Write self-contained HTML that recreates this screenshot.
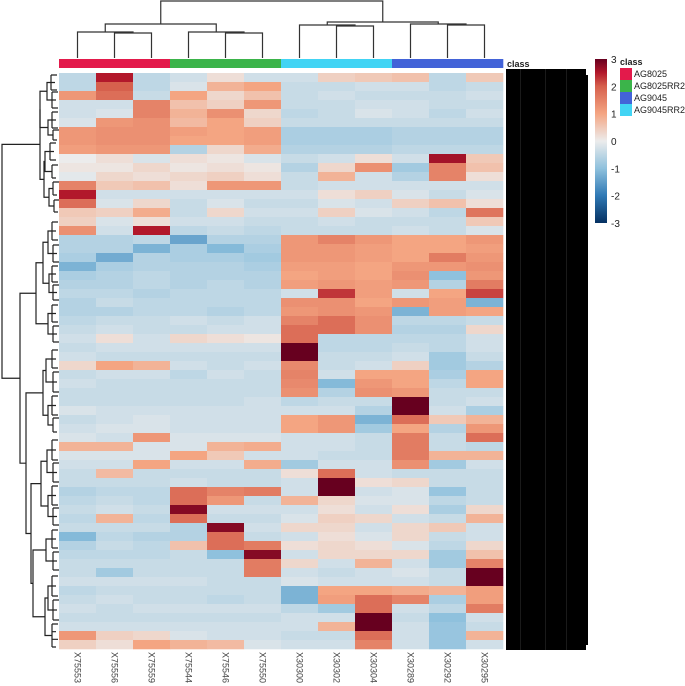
<!DOCTYPE html>
<html><head><meta charset="utf-8">
<style>
html,body{margin:0;padding:0;background:#fff;}
svg{display:block;font-family:"Liberation Sans",sans-serif;}
</style></head>
<body>
<svg id="chart" width="685" height="686" viewBox="0 0 685 686" xmlns="http://www.w3.org/2000/svg">
  <g id="col-dendro" stroke="#333" stroke-width="1.2" fill="none"></g>
  <g id="row-dendro" stroke="#222" stroke-width="1.2" fill="none"></g>
  <g id="classbar"></g>
  <g id="cells"></g>
  <text x="507" y="67" font-size="9" font-weight="bold" fill="#222">class</text>
  <g>
    <rect x="506" y="69" width="80" height="581" fill="#000"/>
    <rect x="520" y="69" width="1" height="581" fill="#1a1a1a"/>
    <rect x="545" y="69" width="1" height="581" fill="#1a1a1a"/>
    <rect x="566" y="69" width="1" height="581" fill="#1a1a1a"/>
    <rect x="586" y="75" width="2" height="570" fill="#000"/>
  </g>
  <g id="collabels"></g>
  <defs>
    <linearGradient id="cbg" x1="0" y1="0" x2="0" y2="1">
      <stop offset="0" stop-color="#67001f"/>
      <stop offset="0.083" stop-color="#b2182b"/>
      <stop offset="0.167" stop-color="#d6604d"/>
      <stop offset="0.333" stop-color="#f4a582"/>
      <stop offset="0.5" stop-color="#ececec"/>
      <stop offset="0.667" stop-color="#8fc1dd"/>
      <stop offset="0.833" stop-color="#2f79b5"/>
      <stop offset="1" stop-color="#053061"/>
    </linearGradient>
  </defs>
  <rect x="595" y="59" width="12" height="164" fill="url(#cbg)"/>
  <g id="cbticks" font-size="10" fill="#222"></g>
  <g font-size="9" fill="#222">
    <text x="620" y="65" font-weight="bold">class</text>
    <rect x="620" y="68" width="12" height="12" fill="#e31a4b"/>
    <text x="634" y="77">AG8025</text>
    <rect x="620" y="80" width="12" height="12" fill="#3bb44a"/>
    <text x="634" y="89">AG8025RR2</text>
    <rect x="620" y="92" width="12" height="12" fill="#4363d8"/>
    <text x="634" y="101">AG9045</text>
    <rect x="620" y="104" width="12" height="12" fill="#42d4f4"/>
    <text x="634" y="113">AG9045RR2</text>
  </g>
</svg>
<script>
const samples = ["X75553","X75556","X75559","X75544","X75546","X75550","X30300","X30302","X30304","X30289","X30292","X30295"];
const sampleClass = ["AG8025","AG8025","AG8025","AG8025RR2","AG8025RR2","AG8025RR2","AG9045RR2","AG9045RR2","AG9045RR2","AG9045","AG9045","AG9045"];
const classColors = {"AG8025":"#e31a4b","AG8025RR2":"#3bb44a","AG9045RR2":"#42d4f4","AG9045":"#4363d8"};
const scaleTicks = [3,2,1,0,-1,-2,-3];
const c1 = [-0.5,-0.5,1.2,-0.3,-0.3,-0.2,1.2,1.2,1.1,0,0.1,-0.1,1.5,2.5,1.8,0.5,0.4,1.3,-0.6,-0.6,-0.7,-1.2,-0.7,-0.6,-0.5,-0.6,-0.6,-0.5,-0.4,-0.3,-0.4,-0.3,0.3,-0.4,-0.3,-0.4,-0.4,-0.2,-0.4,-0.3,-0.2,0.8,-0.2,-0.3,-0.4,-0.4,-0.6,-0.5,-0.4,-0.5,-0.4,-1.1,-0.6,-0.5,-0.4,-0.4,-0.3,-0.5,-0.4,-0.3,-0.4,-0.3,1.2,0.4];
const c2 = [2.5,2.0,1.8,-0.3,-0.2,1.2,1.3,1.3,1.2,0.2,0.1,0.3,0.5,-0.3,-0.2,0.4,-0.2,-0.3,-0.6,-0.6,-1.3,-0.7,-0.6,-0.6,-0.5,-0.4,-0.6,-0.4,-0.3,0.2,-0.3,-0.4,1.0,-0.3,-0.4,-0.4,-0.4,-0.3,-0.3,-0.2,-0.3,0.8,-0.2,-0.3,0.7,-0.4,-0.5,-0.4,-0.3,0.8,-0.4,-0.5,-0.4,-0.5,-0.4,-0.8,-0.3,-0.4,-0.3,-0.4,-0.4,-0.3,0.4,0.2];
const c3 = [-0.5,-0.5,-0.4,1.5,1.5,1.3,1.3,1.3,1.2,-0.2,0.3,0.2,0.6,-0.3,0.3,0.9,0.2,2.5,-0.5,-1.2,-0.6,-0.6,-0.5,-0.5,-0.6,-0.5,-0.5,-0.4,-0.4,-0.3,-0.3,-0.4,0.8,-0.3,-0.4,-0.4,-0.4,-0.3,-0.2,-0.2,1.2,-0.2,-0.2,1.0,-0.4,-0.4,-0.5,-0.5,-0.4,-0.5,-0.4,-0.6,-0.5,-0.5,-0.4,-0.4,-0.3,-0.4,-0.4,-0.3,-0.4,-0.3,0.3,1.0];
const c4 = [-0.3,-0.2,1.0,0.6,0.8,0.7,1.1,1.0,-0.6,0.2,0.1,0.3,0.2,-0.3,-0.4,-0.4,-0.3,-0.5,-1.4,-0.7,-0.7,-0.6,-0.6,-0.6,-0.5,-0.5,-0.5,-0.3,-0.4,0.3,-0.3,-0.4,-0.3,-0.5,-0.4,-0.4,-0.4,-0.3,-0.3,-0.3,-0.2,-0.2,1.0,-0.3,-0.4,-0.3,1.8,1.8,2.8,1.8,-0.6,-0.6,0.6,-0.4,-0.4,-0.4,-0.3,-0.4,-0.4,-0.3,-0.4,-0.3,-0.2,0.8];
const c5 = [0.2,0.8,0.3,0.4,1.3,1.0,1.0,1.0,0.3,0.1,0.2,0.4,1.2,-0.3,-0.2,0.3,-0.3,-0.4,-0.6,-1.1,-0.7,-0.6,-0.6,-0.5,-0.5,-0.5,-0.6,-0.4,-0.3,0.2,-0.3,-0.4,-0.4,-0.3,-0.4,-0.4,-0.4,-0.3,-0.3,-0.3,-0.2,0.8,0.5,-0.3,-0.4,-0.4,1.5,1.2,-0.3,-0.4,2.8,1.8,1.8,-1.0,-0.4,-0.4,-0.4,-0.4,-0.5,-0.3,-0.4,-0.3,-0.3,0.7];
const c6 = [-0.3,1.0,0.6,1.2,0.3,0.4,1.1,1.1,0.9,-0.2,0.1,0.2,1.2,-0.3,-0.4,-0.3,-0.4,-0.5,-0.6,-0.7,-0.8,-0.7,-0.6,-0.6,-0.5,-0.5,-0.5,-0.3,-0.3,0.1,-0.3,-0.4,-0.3,-0.4,-0.4,-0.4,-0.3,-0.3,-0.3,-0.3,-0.2,0.9,-0.3,0.9,-0.4,-0.4,1.6,-0.4,-0.3,-0.4,-0.3,-0.4,1.6,2.8,1.6,1.6,-0.4,-0.4,-0.4,-0.3,-0.4,-0.3,-0.3,-0.2];
const c7 = [-0.3,-0.4,-0.4,-0.4,-0.5,-0.4,-0.7,-0.7,-0.6,-0.4,-0.6,-0.4,-0.4,-0.3,-0.4,-0.3,-0.4,-0.4,1.2,1.2,1.2,1.1,1.0,1.1,-0.3,1.3,1.2,1.5,1.8,1.8,3,3,1.4,1.5,1.4,1.3,-0.5,-0.3,1.0,1.0,-0.3,-0.3,-0.3,-0.8,0.2,-0.3,-0.3,0.8,-0.3,-0.2,0.3,-0.3,0.2,-0.3,0.3,-0.3,-0.2,-1.2,-1.2,-0.5,-0.3,-0.3,-0.4,-0.3];
const c8 = [0.4,-0.4,-0.3,-0.4,-0.4,-0.4,-0.7,-0.7,-0.6,-0.3,0.3,0.8,-0.3,0.2,-0.2,0.4,-0.3,-0.4,1.5,1.2,1.2,1.1,1.1,1.2,2.3,1.3,1.3,1.8,1.8,-0.5,-0.5,-0.4,-0.4,-0.3,-1.1,-0.6,-0.4,-0.3,1.2,1.2,-0.3,-0.3,-0.4,-0.3,1.8,3,3,0.3,0.2,0.4,0.3,0.2,0.3,0.3,-0.3,-0.4,-0.3,1.0,1.1,-0.8,-0.3,0.8,-0.4,-0.3];
const c9 = [0.5,-0.3,-0.4,-0.3,-0.2,-0.4,-0.7,-0.7,-0.6,0.2,1.3,-0.3,-0.3,0.4,-0.3,-0.2,-0.4,-0.4,1.2,1.1,1.1,1.0,1.0,1.1,1.1,1.0,1.2,1.3,1.3,-0.5,-0.5,-0.4,-0.3,1.0,1.2,1.3,-0.4,-0.6,-1.2,-0.8,-0.4,-0.4,-0.4,-0.3,-0.3,0.2,-0.3,-0.2,-0.3,0.3,-0.3,-0.2,0.2,0.3,0.8,-0.3,-0.3,1.0,1.8,1.8,3,3,1.8,1.5];
const c10 = [0.6,-0.3,-0.4,-0.3,-0.3,-0.4,-0.6,-0.6,-0.5,-0.3,-0.8,-0.6,-0.3,-0.2,0.4,-0.3,-0.4,-0.3,1.0,1.0,1.0,1.2,1.3,1.2,-0.3,1.2,-1.2,-0.5,-0.6,-0.5,-0.4,-0.3,0.4,1.0,1.0,1.2,3,3,1.8,1.0,1.6,1.6,1.6,1.3,-0.4,0.3,-0.2,-0.2,0.2,-0.3,0.3,0.3,-0.2,0.3,-0.3,-0.2,-0.3,0.9,1.5,-0.3,-0.4,-0.3,-0.3,-0.3];
const c11 = [-0.5,-0.5,-0.4,-0.4,-0.5,-0.4,-0.6,-0.6,-0.5,2.6,1.5,1.5,-0.3,-0.4,0.6,-0.5,-0.4,-0.4,1.0,1.0,1.6,1.2,-1.0,-0.6,1.0,1.1,1.1,-0.5,-0.6,-0.5,-0.5,-0.8,-0.8,-0.7,-0.5,-0.4,-0.4,-0.3,0.5,-0.6,-0.4,-0.4,0.8,-0.8,-0.4,-0.4,-0.9,-0.5,-0.7,-0.4,0.5,-0.4,-0.5,-0.8,-0.8,-0.4,-0.4,0.8,-0.7,-0.5,-1.0,-0.9,-0.9,-0.9];
const c12 = [0.5,-0.4,-0.3,-0.4,-0.3,-0.4,-0.6,-0.6,-0.5,0.5,0.6,0.2,-0.3,-0.2,0.2,1.7,0.5,-0.2,1.2,1.1,1.2,1.3,1.2,1.6,2.2,-1.2,1.0,-0.4,0.3,-0.3,-0.3,-0.4,-0.6,1.0,1.0,-0.4,-0.3,-0.7,0.8,1.2,1.8,-0.5,0.8,-0.3,-0.4,-0.4,-0.4,-0.4,0.3,0.8,-0.3,-0.3,0.3,0.6,1.5,3,3,1.1,1.1,1.6,-0.3,-0.4,0.8,-0.3];
const columns = [c1,c2,c3,c4,c5,c6,c7,c8,c9,c10,c11,c12];

const NS = "http://www.w3.org/2000/svg";
const X0 = 59, X1 = 503, Y0 = 73, Y1 = 649;
const colW = (X1 - X0) / samples.length;
const nRows = c1.length;
const rowH = (Y1 - Y0) / nRows;
const xPos = i => X0 + i * colW;
const yPos = r => Y0 + r * rowH;
const vMin = -3, vMax = 3;
const stops = [[-3,[5,48,97]],[-2,[47,121,181]],[-1,[143,193,221]],[0,[236,236,236]],[1,[244,165,130]],[2,[214,96,77]],[2.5,[178,24,43]],[3,[103,0,31]]];
function color(v){
  v = Math.max(vMin, Math.min(vMax, v));
  for (let i=0;i<stops.length-1;i++){
    const a=stops[i], b=stops[i+1];
    if (v>=a[0] && v<=b[0]){
      const t=(v-a[0])/(b[0]-a[0]);
      const c=a[1].map((x,k)=>Math.round(x+(b[1][k]-x)*t));
      return "rgb("+c.join(",")+")";
    }
  }
  return "#fff";
}
function mk(tag, attrs, parent){
  const e=document.createElementNS(NS,tag);
  for (const k in attrs) e.setAttribute(k, attrs[k]);
  parent.appendChild(e); return e;
}
const cells = document.getElementById("cells");
columns.forEach((col, ci) => {
  col.forEach((v, ri) => {
    const r = mk("rect", {x:xPos(ci).toFixed(2), y:yPos(ri).toFixed(2), width:(colW+0.3).toFixed(2), height:(rowH+0.3).toFixed(2), fill:color(v)}, cells);
    
    
  });
});
const cbar = document.getElementById("classbar");
sampleClass.forEach((c, i) => {
  const r = mk("rect", {x:xPos(i).toFixed(2), y:59, width:(colW+0.3).toFixed(2), height:9, fill:classColors[c]}, cbar);
  
  
});
const cl = document.getElementById("collabels");
samples.forEach((s, i) => {
  const cxl = xPos(i) + colW/2 - 3;
  const t = mk("text", {x:0, y:0, "font-size":9, fill:"#444", transform:"translate("+cxl.toFixed(1)+",652) rotate(90)"}, cl);
  t.textContent = s;
  
  
});
const ct = document.getElementById("cbticks");
scaleTicks.forEach(v => {
  const y = 59 + (vMax - v) / (vMax - vMin) * 164;
  const t = mk("text", {x:611, y:(y+4).toFixed(1)}, ct);
  t.textContent = String(v);
  
  
});
const cd = document.getElementById("col-dendro");
function ccx(i){ return xPos(i) + colW/2; }
function link(x1,x2,yTop,y1b,y2b,parent){
  const p = mk("path", {d:"M"+x1+","+y1b+"V"+yTop+"H"+x2+"V"+y2b}, parent);
  
  
}
link(ccx(1),ccx(2),33,58,58,cd); const rP=(ccx(1)+ccx(2))/2;
link(ccx(0),rP,32,58,33,cd); const rDen=(ccx(0)+rP)/2;
link(ccx(4),ccx(5),33,58,58,cd); const gP=(ccx(4)+ccx(5))/2;
link(ccx(3),gP,32,58,33,cd); const gDen=(ccx(3)+gP)/2;
link(rDen,gDen,24,32,32,cd); const Lden=(rDen+gDen)/2;
link(ccx(7),ccx(8),26,58,58,cd); const cP=(ccx(7)+ccx(8))/2;
link(ccx(6),cP,25,58,26,cd); const cDen=(ccx(6)+cP)/2;
link(ccx(10),ccx(11),25,58,58,cd); const bP=(ccx(10)+ccx(11))/2;
link(ccx(9),bP,24,58,25,cd); const bDen=(ccx(9)+bP)/2;
link(cDen,bDen,22,25,24,cd); const Rden=(cDen+bDen)/2;
link(Lden,Rden,1,24,22,cd);
const rd = document.getElementById("row-dendro");
function leafGroup(x, y1, y2){
  const n = Math.max(2, Math.round((y2-y1)/6));
  const step=(y2-y1)/(n-1);
  let d="M"+x+","+y1+"V"+y2;
  for(let k=0;k<n;k++){ const y=y1+k*step; d+="M"+x+","+y.toFixed(1)+"H"+(x+(k%2?4:6)); }
  mk("path",{d:d},rd);
  return (y1+y2)/2;
}
function joinR(x, ya, yb, xa, xb){
  mk("path",{d:"M"+xa+","+ya+"H"+x+"V"+yb+"H"+xb},rd);
  return (ya+yb)/2;
}
const a1 = leafGroup(51,75,90), a2 = leafGroup(52,92,108), a3=leafGroup(52,112,128), a4=leafGroup(53,130,140);
const a12 = joinR(47,a1,a2,51,52), a34 = joinR(48,a3,a4,52,53);
const A1 = joinR(40,a12,a34,47,48);
const a5 = leafGroup(50,143,160), a6=leafGroup(52,165,178), a7=leafGroup(53,182,195), a8=leafGroup(54,200,212);
const a56 = joinR(45,a5,a6,50,52), a78=joinR(49,a7,a8,53,54);
const A2 = joinR(44,a56,a78,45,49);
const A = joinR(40,A1,A2,40,44);
const r1=leafGroup(52,222,240), r2=leafGroup(53,245,262), r3=leafGroup(52,266,282), r4=leafGroup(53,285,300);
const r12=joinR(48,r1,r2,52,53), r34=joinR(49,r3,r4,52,53);
const B1a=joinR(43,r12,r34,48,49);
const r5=leafGroup(52,305,322), r6=leafGroup(53,326,342);
const B1b=joinR(48,r5,r6,52,53);
const B1=joinR(36,B1a,B1b,43,48);
const r7=leafGroup(52,350,368), r8=leafGroup(53,372,392), r9=leafGroup(52,396,415), r10=leafGroup(53,418,432);
const r78=joinR(46,r7,r8,52,53), r910=joinR(48,r9,r10,52,53);
const B2a=joinR(43,r78,r910,46,48);
const r11=leafGroup(52,440,460), r12b=leafGroup(53,463,482), r13=leafGroup(52,486,505), r14=leafGroup(53,508,525);
const r1112=joinR(47,r11,r12b,52,53), r1314=joinR(48,r13,r14,52,53);
const B2b=joinR(41,r1112,r1314,47,48);
const r15=leafGroup(52,530,548), r16=leafGroup(53,552,570), r17=leafGroup(52,576,596), r18=leafGroup(53,600,620), r19=leafGroup(52,624,647);
const r1516=joinR(46,r15,r16,52,53), r1718=joinR(48,r17,r18,52,53);
const r1719=joinR(45,r1718,r19,48,52);
const B2c=joinR(33,r1516,r1719,46,45);
const B2bc=joinR(31,B2b,B2c,41,33);
const B2=joinR(26,B2a,B2bc,43,31);
const B=joinR(20,B1,B2,36,26);
joinR(2,A,B,40,20);
</script>
</body></html>
